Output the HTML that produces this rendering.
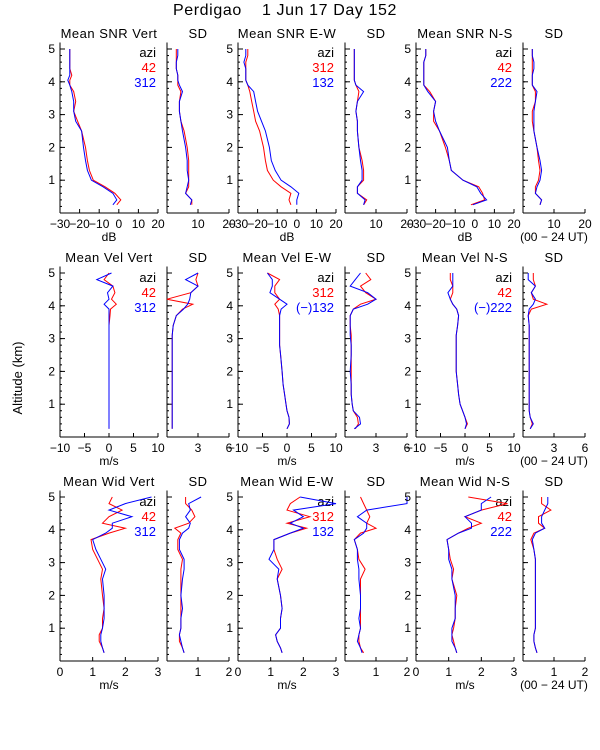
<!DOCTYPE html>
<html><head><meta charset="utf-8"><style>
html,body{margin:0;padding:0;background:#fff;width:600px;height:750px;overflow:hidden}
svg{display:block}
text{font-family:"Liberation Sans",sans-serif;fill:#000}
</style></head><body>
<svg id="chart" width="600" height="750" viewBox="0 0 600 750" xmlns="http://www.w3.org/2000/svg">
<text x="285" y="15" font-size="16" text-anchor="middle" style="white-space:pre" xml:space="preserve" letter-spacing="0.6">Perdigao    1 Jun 17 Day 152</text>
<text transform="translate(22,378) rotate(-90)" font-size="13" text-anchor="middle">Altitude (km)</text>
</svg>
<script>
const alt = [0.25,0.4,0.6,0.8,1.0,1.3,1.6,2.0,2.5,2.8,3.1,3.4,3.7,3.9,4.05,4.2,4.4,4.6,4.8,5.0];
const yTicks = [1,2,3,4,5];
// Row 1 - SNR
const snrVertRed = [-1,1,-2,-7,-13,-15,-16,-17,-19,-21,-23,-22,-23,-25,-25,-24,-25,-25,-25,-25];
const snrVertBlue = [-3,-1,-3,-8,-14,-16,-17,-18,-19,-22,-23,-23,-24,-25,-26,-25,-25,-25,-25,-25];
const snrEWRed = [-3,-4,-3,-8,-12,-15,-16,-17,-19,-21,-22,-23,-24,-25,-26,-26,-26,-26,-25,-25];
const snrEWBlue = [0,0,1,-3,-8,-11,-13,-14,-16,-18,-20,-21,-22,-25,-26,-26,-26,-27,-26,-26];
const snrNSRed = [-2,5,4,2,-6,-12,-13,-15,-18,-21,-21,-20,-23,-26,-26,-26,-26,-26,-25,-25];
const snrNSBlue = [-1,6,3,1,-6,-12,-13,-14,-18,-20,-21,-20,-24,-26,-26,-26,-26,-26,-25,-25];
const sdSnrVertRed = [8,8,6,7,7,7,7,6.5,5.5,4.5,4,4,4.5,3.5,3.5,3.5,3,3,3,3];
const sdSnrVertBlue = [7.5,8,6,6.5,7,6.5,6.5,6,5,4.5,4,4,5,4,3.5,3.5,3,3,3.5,3.5];
const sdSnrEWRed = [6,7,4,4,6,6,5.5,4.5,4,4,3.5,4,4.5,3.5,3,3,3,3,3,3];
const sdSnrEWBlue = [6,6.5,4,4,5.5,5.5,5,4.5,4,4,3.5,4,6,3.5,3,3,3,3,3,3];
const sdSnrNSRed = [5.5,6,4,4,5,5.5,5,4.5,3.5,3,3,4,4,3,3,3,3,3,3,3];
const sdSnrNSBlue = [5.5,6,4,4.5,5.5,6,5.5,4.5,3.5,3.5,3.5,4,4.5,3,3,3,3.5,3.5,3,3];
// Row 2 - Velocity
const velVertRed = [0,0,0,0,0,0,0,0,0,0,0,0,0.2,0.3,1.5,0.5,1.2,0.8,-1,0];
const velVertBlue = [0,0,0,0,0,0,0,0,0,0,0,0,0,0,-1,0,-0.3,0.8,-2.5,0.5];
const sdVelVertRed = [0.5,0.5,0.5,0.5,0.5,0.5,0.5,0.5,0.5,0.5,0.5,0.6,0.9,1.5,2.5,0,2.3,3,2.8,3];
const sdVelVertBlue = [0.5,0.5,0.5,0.5,0.5,0.5,0.5,0.5,0.5,0.5,0.5,0.6,0.9,1.6,2.0,2.2,2.3,3,1.8,3];
const velEWRed = [0,0.5,0.4,0,-0.2,-0.5,-0.8,-1,-1.3,-1.5,-1.5,-1.5,-1.5,-1.8,-2.5,-1.5,-2.5,-2.5,-1.5,-4];
const velEWBlue = [0,0.5,0.4,0,-0.2,-0.5,-0.8,-1,-1.3,-1.5,-1.5,-1.5,-1.5,-1.2,0,-1.5,-3.5,-3,-3,-4];
const sdVelEWRed = [1,1.3,1.2,0.8,0.7,0.6,0.6,0.6,0.6,0.6,0.6,0.5,0.5,0.8,1.5,3,2,1.5,2.5,2];
const sdVelEWBlue = [0.9,1.5,1.4,0.8,0.7,0.6,0.6,0.5,0.6,0.6,0.5,0.5,0.5,0.8,2.2,3,2.2,0.5,1,1.5];
const velNSRed = [0,0.5,0,-0.5,-1,-1.3,-1.5,-1.8,-1.8,-1.8,-1.8,-1.5,-1.3,-1.7,-2.5,-3,-2.5,-2.5,-3,-3];
const velNSBlue = [0,0.3,0,-0.5,-1,-1.3,-1.5,-1.8,-1.8,-1.8,-1.8,-1.5,-1.3,-1.7,-2.5,-3,-3.5,-2.5,-2.5,-2.5];
const sdVelNSRed = [0.7,0.9,0.7,0.6,0.6,0.6,0.6,0.6,0.6,0.6,0.6,0.6,0.5,0.8,2.3,1,0.8,1.2,1,1];
const sdVelNSBlue = [0.7,1.0,0.7,0.6,0.6,0.6,0.6,0.6,0.6,0.6,0.6,0.6,0.5,0.6,1.0,1.2,0.8,1.2,0.5,0.5];
// Row 3 - Width
const widVertRed = [1.35,1.3,1.2,1.2,1.3,1.3,1.35,1.3,1.25,1.3,1.15,1.0,0.95,1.5,2.0,1.3,1.5,1.9,1.5,1.6];
const widVertBlue = [1.35,1.3,1.25,1.25,1.3,1.35,1.35,1.35,1.3,1.4,1.25,1.1,1.0,1.4,1.6,1.6,2.2,1.5,2.0,2.8];
const sdWidVertRed = [0.55,0.5,0.4,0.4,0.45,0.45,0.45,0.45,0.45,0.45,0.5,0.35,0.35,0.45,0.25,0.7,0.9,0.8,0.6,0.6];
const sdWidVertBlue = [0.55,0.5,0.45,0.4,0.45,0.45,0.5,0.45,0.5,0.55,0.55,0.4,0.4,0.5,0.7,0.75,0.6,0.75,0.7,1.1];
const widEWRed = [1.35,1.3,1.2,1.15,1.3,1.3,1.35,1.3,1.2,1.35,1.2,1.1,1.1,1.6,2.1,1.5,2.2,1.5,1.6,1.9];
const widEWBlue = [1.35,1.3,1.2,1.15,1.3,1.3,1.35,1.3,1.2,1.25,0.95,1.1,1.1,1.6,2.0,1.6,2.0,1.7,3.0,1.9];
const sdWidEWRed = [0.6,0.5,0.45,0.45,0.5,0.5,0.5,0.5,0.5,0.65,0.45,0.4,0.3,0.5,1.0,0.7,0.8,0.7,0.6,0.5];
const sdWidEWBlue = [0.55,0.5,0.4,0.45,0.5,0.45,0.5,0.5,0.45,0.45,0.4,0.4,0.3,0.6,0.7,0.7,0.4,0.7,2.0,2.0];
const widNSRed = [1.25,1.2,1.15,1.1,1.15,1.2,1.2,1.25,1.1,1.15,1.05,1.0,0.95,1.3,1.6,2.0,1.5,2.0,2.8,1.6];
const widNSBlue = [1.25,1.2,1.1,1.1,1.1,1.2,1.2,1.2,1.1,1.1,1.0,1.0,0.95,1.3,1.7,1.7,1.5,2.0,2.0,2.3];
const sdWidNSRed = [0.45,0.4,0.35,0.35,0.4,0.4,0.4,0.4,0.4,0.4,0.4,0.35,0.25,0.35,0.7,0.5,0.5,0.9,0.6,0.6];
const sdWidNSBlue = [0.45,0.4,0.35,0.35,0.4,0.4,0.4,0.4,0.4,0.4,0.4,0.35,0.3,0.4,0.7,0.6,0.6,0.7,0.8,0.8];

const meanTitles = [["Mean SNR Vert","Mean SNR E-W","Mean SNR N-S"],["Mean Vel Vert","Mean Vel E-W","Mean Vel N-S"],["Mean Wid Vert","Mean Wid E-W","Mean Wid N-S"]];
const redLegend = [["42","312","42"],["42","312","42"],["42","312","42"]];
const blueLegend = [["312","132","222"],["312","(\u2212)132","(\u2212)222"],["312","132","222"]];
const meanTicks = [[-30,-20,-10,0,10,20],[-10,-5,0,5,10],[0,1,2,3]];
const meanTickLabels = [["\u221230","\u221220","\u221210","0","10","20"],["\u221210","\u22125","0","5","10"],["0","1","2","3"]];
const sdTicks = [[10,20],[3,6],[1,2]];
const units = ["dB","m/s","m/s"];
const meanData = [[[snrVertRed,snrVertBlue],[snrEWRed,snrEWBlue],[snrNSRed,snrNSBlue]],
 [[velVertRed,velVertBlue],[velEWRed,velEWBlue],[velNSRed,velNSBlue]],
 [[widVertRed,widVertBlue],[widEWRed,widEWBlue],[widNSRed,widNSBlue]]];
const sdData = [[[sdSnrVertRed,sdSnrVertBlue],[sdSnrEWRed,sdSnrEWBlue],[sdSnrNSRed,sdSnrNSBlue]],
 [[sdVelVertRed,sdVelVertBlue],[sdVelEWRed,sdVelEWBlue],[sdVelNSRed,sdVelNSBlue]],
 [[sdWidVertRed,sdWidVertBlue],[sdWidEWRed,sdWidEWBlue],[sdWidNSRed,sdWidNSBlue]]];

const svg = document.getElementById('chart');
const NS = 'http://www.w3.org/2000/svg';
const rowY0 = [213,437,661];
const legendY = [[57,72,87],[282,297,312],[506,521,536]];
const KM = 32.8;
function mk(tag, attrs, parent){const e=document.createElementNS(NS,tag);for(const k in attrs)e.setAttribute(k,attrs[k]);(parent||svg).appendChild(e);return e;}
function txt(s,x,y,size,anchor,fill,parent){const t=mk('text',{x:x,y:y,'font-size':size,'text-anchor':anchor||'middle'},parent);if(fill)t.setAttribute('style','fill:'+fill);t.textContent=s;return t;}

function panel(r,c,isSd){
  const x0 = 60 + c*178 + (isSd?107:0);
  const w = isSd?62:98;
  const y0 = rowY0[r];
  const yTop = y0 - 5.2*KM;
  const xmin = isSd?0:meanTicks[r][0];
  const xmax = isSd?sdTicks[r][1]:meanTicks[r][meanTicks[r].length-1];
  const xs = v => x0 + (v-xmin)/(xmax-xmin)*w;
  const ys = a => y0 - a*KM;
  const g = mk('g',{});
  
  
  mk('line',{x1:x0,y1:yTop,x2:x0,y2:y0,stroke:'#000','stroke-width':1},g);
  mk('line',{x1:x0,y1:y0,x2:x0+w,y2:y0,stroke:'#000','stroke-width':1},g);
  for(let a=0.2;a<5.2;a+=0.2){mk('line',{x1:x0,y1:ys(a),x2:x0+2,y2:ys(a),stroke:'#000','stroke-width':1},g);}
  yTicks.forEach(t=>{mk('line',{x1:x0,y1:ys(t),x2:x0+5,y2:ys(t),stroke:'#000','stroke-width':1},g);
    if(!isSd){const l=txt(String(t),x0-5,ys(t)+4,12,'end',null,g);}});
  const ticks = isSd?sdTicks[r]:meanTicks[r];
  const labels = isSd?sdTicks[r].map(String):meanTickLabels[r];
  ticks.forEach((t,i)=>{mk('line',{x1:xs(t),y1:y0,x2:xs(t),y2:y0-4,stroke:'#000','stroke-width':1},g);
    const l=txt(labels[i],xs(t),y0+15,12,'middle',null,g);});
  const title = txt(isSd?'SD':meanTitles[r][c], x0+w/2, y0-175, 13,'middle',null,g);
  title.setAttribute('letter-spacing','0.5');
  
  
  if(!isSd){
    const u=txt(units[r],x0+w/2,y0+28,12,'middle',null,g);
    
    
    const a=txt('azi',x0+w-2,legendY[r][0],13,'end',null,g);
    
    
    const lr=txt(redLegend[r][c],x0+w-2,legendY[r][1],13,'end','#f00',g);
    
    
    const lb=txt(blueLegend[r][c],x0+w-2,legendY[r][2],13,'end','#00f',g);
    
    
  } else if(c===2){
    const ut=txt('(00 \u2212 24 UT)',x0+w/2,y0+28,12,'middle',null,g);
    
    
  }
  const d = isSd?sdData[r][c]:meanData[r][c];
  const cols = ['#f00','#00f'];
  d.forEach((series,si)=>{
    const pts = series.map((v,i)=>xs(v).toFixed(1)+','+ys(alt[i]).toFixed(1)).join(' ');
    const pl = mk('polyline',{points:pts,fill:'none',stroke:cols[si],'stroke-width':1},g);
    
    
  });
}
for(let r=0;r<3;r++)for(let c=0;c<3;c++){panel(r,c,false);panel(r,c,true);}
</script>
</body></html>
